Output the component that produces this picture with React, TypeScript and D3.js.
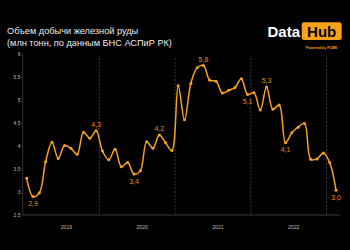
import React from "react";
import * as d3 from "d3";

const months: string[] = [];
const startYear = 2019;
const values2019 = [3.30, 2.90, 2.98, 3.66, 4.08, 3.73, 4.01, 3.95, 3.82, 4.30, 4.17, 4.33];
const values2020 = [3.89, 3.70, 3.93, 3.55, 3.64, 3.39, 3.46, 4.09, 3.95, 4.24, 4.07, 3.90];
const values2021 = [5.31, 4.57, 5.36, 5.70, 5.75, 5.43, 5.41, 5.15, 5.21, 5.27, 5.46, 5.12];
const values2022 = [5.16, 4.78, 5.28, 4.80, 4.89, 4.07, 4.29, 4.41, 4.49, 3.71, 3.72, 3.85];
const values2023 = [3.64, 3.04];
const values = [...values2019, ...values2020, ...values2021, ...values2022, ...values2023];
values.forEach((_, i) => months.push(`${startYear + Math.floor(i / 12)}-${(i % 12) + 1}`));

const years = ["2019", "2020", "2021", "2022"];
const yTicks = [2.5, 3, 3.5, 4, 4.5, 5, 5.5, 6];
// annotated points: index, text, above(true)/below(false)
const annIdx = [1, 11, 17, 21, 28, 35, 38, 41, 49];
const annText = ["2,9", "4,3", "3,4", "4,2", "5,8", "5,1", "5,3", "4,1", "3,0"];
const annAbove = [false, true, false, true, true, false, true, false, false];

const W = 350, H = 250;
const ORANGE = "#f6a21e";
const LABEL = "#e0901c";

export default function App() {
  const x = d3.scaleLinear().domain([0, values.length - 1]).range([26.7, 336]);
  const y = d3.scaleLinear().domain([2.5, 6]).range([215, 54]);
  const line = d3
    .line<number>()
    .x((_, i) => x(i))
    .y((d) => y(d))
    .curve(d3.curveCatmullRom.alpha(0.5));
  const boundaries = years.map((_, k) => 12 * (k + 1) - 0.5);
  const font = "Liberation Sans, Arial, sans-serif";
  return (
    <svg width={W} height={H} style={{ position: "absolute", left: 0, top: 0 }} fontFamily={font}>
      <rect width={W} height={H} fill="#000" />
      <text x={7} y={34} fill="#ececec" fontSize={9.2}>Объем добычи железной руды</text>
      <text x={7} y={46} fill="#ececec" fontSize={9.2}>(млн тонн, по данным БНС АСПиР РК)</text>
      {/* logo */}
      <text x={267.5} y={36.5} fill="#fff" fontSize={15} fontWeight="bold">Data</text>
      <rect x={301.7} y={22.3} width={40} height={17.7} rx={2.5} fill="#f7a21b" />
      <text x={321.7} y={36.5} fill="#000" fontSize={15} fontWeight="bold" textAnchor="middle">Hub</text>
      <text x={321.7} y={48.5} fill="#f7a21b" fontSize={3.6} fontWeight="bold" textAnchor="middle">Powered by FCBK</text>
      {/* axes */}
      <line x1={22.7} x2={22.7} y1={54} y2={215} stroke="#555" strokeWidth={0.6} />
      <line x1={22.7} x2={340} y1={215} y2={215} stroke="#666" strokeWidth={0.6} />
      {yTicks.map((t) => (
        <g key={t}>
          <line x1={21.5} x2={22.7} y1={y(t)} y2={y(t)} stroke="#666" strokeWidth={0.5} />
          <text x={20.5} y={y(t) + 1.7} fill="#bbb" fontSize={5} textAnchor="end">{String(t)}</text>
        </g>
      ))}
      {boundaries.map((b) => (
        <line key={b} x1={x(b)} x2={x(b)} y1={58} y2={215} stroke="#4f5566" strokeWidth={0.7} strokeDasharray="2,1.5" />
      ))}
      {years.map((yr, k) => (
        <text key={yr} x={x(12 * k + 6.3)} y={229} fill="#bbb" fontSize={5.2} textAnchor="middle">{yr}</text>
      ))}
      <path d={line(values) || ""} fill="none" stroke={ORANGE} strokeWidth={1.5} />
      {values.map((v, i) => (
        <circle key={i} cx={x(i)} cy={y(v)} r={1.5} fill={ORANGE} />
      ))}
      {annIdx.map((idx, k) => (
        <text
          key={idx}
          x={x(idx)}
          y={annAbove[k] ? y(values[idx]) - 4 : y(values[idx]) + 9.5}
          fill={LABEL}
          fontSize={7}
          textAnchor="middle"
        >
          {annText[k]}
        </text>
      ))}
    </svg>
  );
}
